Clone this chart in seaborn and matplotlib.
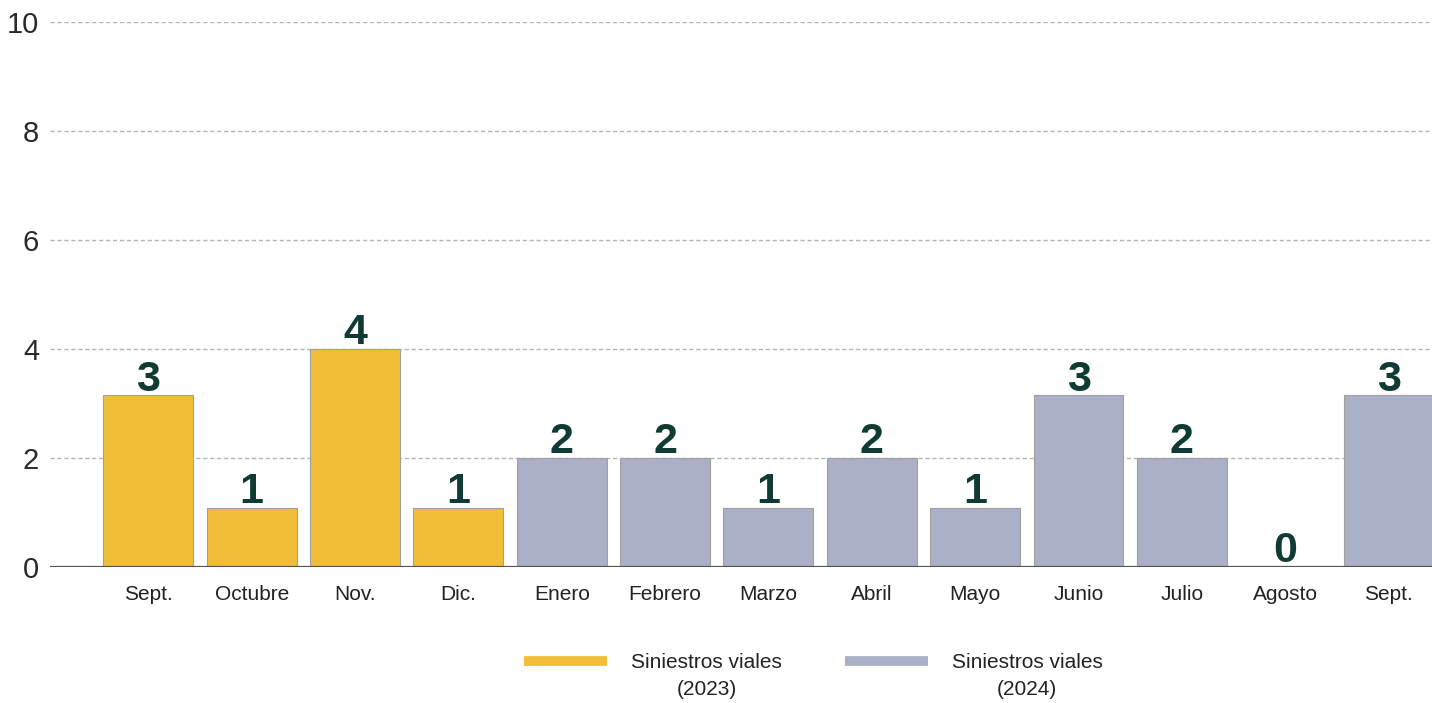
import numpy as np
import pandas as pd
import matplotlib.pyplot as plt
import seaborn as sns
from matplotlib.lines import Line2D

sns.set_theme(style="white")
plt.rcParams['font.family'] = ['Liberation Sans', 'DejaVu Sans']

# Datos
meses = ["Sept.", "Octubre", "Nov.", "Dic.", "Enero", "Febrero", "Marzo",
         "Abril", "Mayo", "Junio", "Julio", "Agosto", "Sept."]
valores = [3, 1, 4, 1, 2, 2, 1, 2, 1, 3, 2, 0, 3]
alturas = [3.15, 1.08, 4.0, 1.08, 2.0, 2.0, 1.08, 2.0, 1.08, 3.15, 2.0, 0.0, 3.15]
series = ["Siniestros viales (2023)"] * 4 + ["Siniestros viales (2024)"] * 9
anios = ["(2023)", "(2024)"]

color_2023 = "#F2BD38"
color_2024 = "#A9B0C8"
color_texto = "#0F3B34"

df = pd.DataFrame({"idx": range(len(meses)), "mes": meses, "altura": alturas,
                   "valor": valores, "serie": series})

fig = plt.figure(figsize=(14.32, 7.03), dpi=100)
ax = fig.add_axes([0.035, 0.1935, 0.965, 0.775])

sns.barplot(data=df, x="idx", y="altura", hue="serie", dodge=False, width=0.87,
            palette=[color_2023, color_2024], saturation=1, edgecolor="#a0a0a0",
            linewidth=0.8, legend=False, ax=ax, zorder=2)

for i, row in df.iterrows():
    ax.text(row["idx"], row["altura"] - 0.08, str(row["valor"]), ha="center", va="bottom",
            fontsize=31, fontweight="bold", color=color_texto, zorder=4)

ax.set_ylim(0, 10)
ax.set_xlim(-0.95, 12.42)
ax.set_yticks([0, 2, 4, 6, 8, 10])
ax.set_xticks(df["idx"])
ax.set_xticklabels(meses, fontsize=15, color="#222222")
ax.tick_params(axis="y", labelsize=21, labelcolor="#2a2a2a", length=0, pad=8)
ax.tick_params(axis="x", length=0, pad=13)
ax.set_xlabel("")
ax.set_ylabel("")

for y in [2, 4, 6, 8, 10]:
    ax.axhline(y, color="#b5b5b5", linestyle=(0, (3, 2)), linewidth=1, zorder=1)
ax.axhline(0, color="#555555", linewidth=1.6, zorder=3)

for s in ax.spines.values():
    s.set_visible(False)
ax.grid(False)

# Leyenda: primera línea junto al trazo, el año debajo
handles = [Line2D([], [], color=color_2023, linewidth=7, solid_capstyle="butt"),
           Line2D([], [], color=color_2024, linewidth=7, solid_capstyle="butt")]
leg = fig.legend(handles, ["Siniestros viales", "Siniestros viales"],
                 loc="center", bbox_to_anchor=(0.568, 0.057), ncol=2, frameon=False,
                 fontsize=15, handlelength=4.0, handletextpad=1.15, columnspacing=3.0)
fig.canvas.draw()
inv = fig.transFigure.inverted()
for t, anio in zip(leg.get_texts(), anios):
    t.set_color("#222222")
    bb = t.get_window_extent()
    cx, cy = inv.transform(((bb.x0 + bb.x1) / 2, (bb.y0 + bb.y1) / 2))
    fig.text(cx, cy - 27 / 703, anio, ha="center", va="center", fontsize=15, color="#222222")

fig.savefig("out.png", dpi=100)
